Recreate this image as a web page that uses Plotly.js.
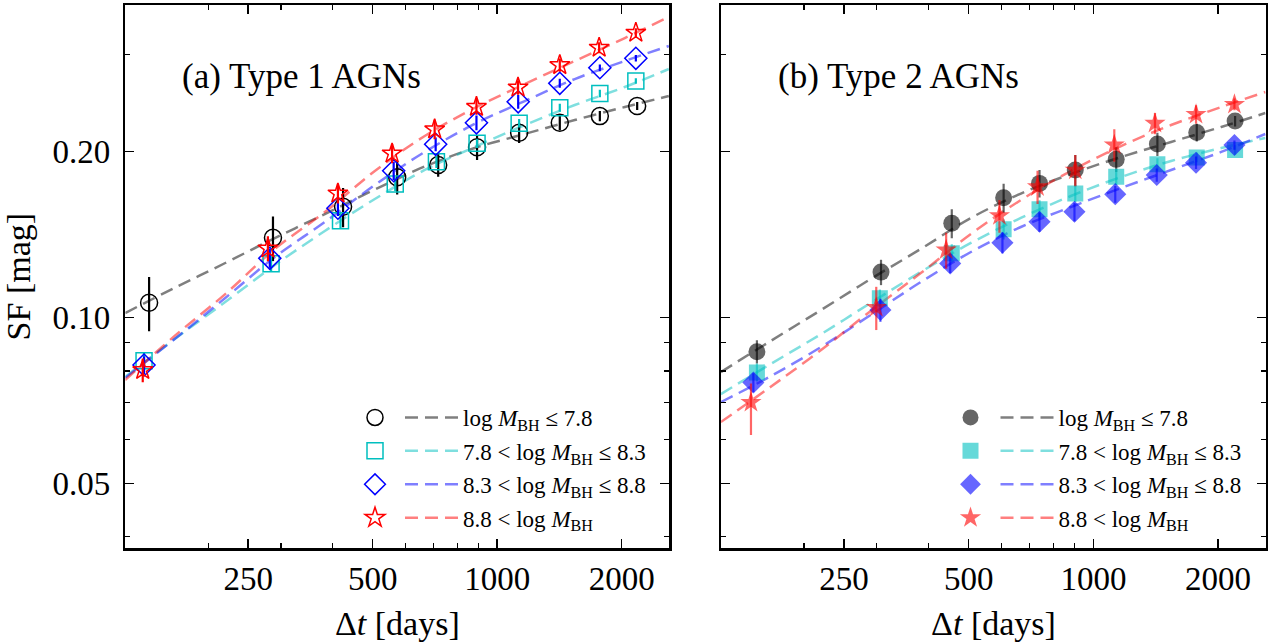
<!DOCTYPE html>
<html>
<head>
<meta charset="utf-8">
<script src="https://cdn.plot.ly/plotly-3.0.1.min.js"></script>
<style>html,body{margin:0;padding:0;background:#fff;}#chart{width:1281px;height:643px;}</style>
</head>
<body>
<div id="chart"></div>
<script>
// ---------------- data ----------------
const xTickVals = [250, 500, 1000, 2000];
const xTickText = ['250', '500', '1000', '2000'];
const xMinorVals = [200, 300, 400, 600, 700, 800, 900];
const yTickVals = [0.05, 0.10, 0.20];
const yTickText = ['0.05', '0.10', '0.20'];
const yMinorVals = [0.04, 0.06, 0.07, 0.08, 0.09, 0.3];

const seriesLabels = [
  'log <i>M</i><sub>BH</sub> \u2264 7.8',
  '7.8 &lt; log <i>M</i><sub>BH</sub> \u2264 8.3',
  '8.3 &lt; log <i>M</i><sub>BH</sub> \u2264 8.8',
  '8.8 &lt; log <i>M</i><sub>BH</sub>'
];
const panelTitles = ['(a) Type 1 AGNs', '(b) Type 2 AGNs'];
const xTitle = '\u0394<i>t</i> [days]';
const yTitle = 'SF [mag]';

// Type 1 AGNs (panel a)
const t1_dt_m1 = [144, 287, 424, 573, 720, 894, 1130, 1417, 1771, 2180];
const t1_sf_m1 = [0.1064, 0.1396, 0.1589, 0.1797, 0.1892, 0.2037, 0.2165, 0.2257, 0.2321, 0.2421];
const t1_err_m1 = [0.012, 0.013, 0.013, 0.0125, 0.009, 0.0105, 0.009, 0.007, 0.005, 0.004];

const t1_dt_m2 = [140, 284, 418, 567, 713, 894, 1130, 1417, 1771, 2164];
const t1_sf_m2 = [0.0835, 0.1252, 0.1499, 0.1747, 0.1918, 0.2071, 0.2252, 0.2403, 0.2552, 0.2688];
const t1_err_m2 = [0.003, 0.004, 0.005, 0.005, 0.005, 0.004, 0.004, 0.004, 0.004, 0.003];

const t1_dt_m3 = [140, 282, 412, 562, 710, 891, 1124, 1417, 1771, 2164];
const t1_sf_m3 = [0.0820, 0.1281, 0.1579, 0.1847, 0.2063, 0.2257, 0.2464, 0.2662, 0.2841, 0.2955];
const t1_err_m3 = [0.003, 0.005, 0.005, 0.007, 0.006, 0.007, 0.007, 0.005, 0.004, 0.004];

const t1_dt_m4 = [139, 279, 412, 557, 706, 891, 1123, 1417, 1764, 2164];
const t1_sf_m4 = [0.0803, 0.1335, 0.1680, 0.1986, 0.2196, 0.2413, 0.2617, 0.2873, 0.3090, 0.3290];
const t1_err_m4 = [0.004, 0.007, 0.007, 0.008, 0.009, 0.008, 0.008, 0.008, 0.007, 0.006];

// Type 2 AGNs (panel b)
const t2_dt_m1 = [154, 307, 455, 607, 741, 904, 1135, 1427, 1776, 2198];
const t2_sf_m1 = [0.0867, 0.1209, 0.1483, 0.1650, 0.1752, 0.1852, 0.1937, 0.2065, 0.2168, 0.2273];
const t2_err_m1 = [0.0042, 0.0064, 0.009, 0.010, 0.010, 0.012, 0.010, 0.010, 0.008, 0.005];

const t2_dt_m2 = [154, 305, 455, 607, 741, 904, 1135, 1427, 1776, 2198];
const t2_sf_m2 = [0.0795, 0.1084, 0.1308, 0.1446, 0.1573, 0.1680, 0.1801, 0.1897, 0.1953, 0.2014];
const t2_err_m2 = [0.003, 0.004, 0.005, 0.006, 0.006, 0.006, 0.006, 0.005, 0.004, 0.004];

const t2_dt_m3 = [151, 306, 451, 603, 741, 900, 1129, 1422, 1769, 2190];
const t2_sf_m3 = [0.0762, 0.1032, 0.1254, 0.1367, 0.1492, 0.1556, 0.1675, 0.1814, 0.1910, 0.2057];
const t2_err_m3 = [0.003, 0.005, 0.005, 0.006, 0.006, 0.006, 0.006, 0.005, 0.005, 0.004];

const t2_dt_m4 = [149, 299, 441, 593, 733, 904, 1123, 1408, 1769, 2190];
const t2_sf_m4 = [0.0701, 0.1043, 0.1326, 0.1530, 0.1727, 0.1852, 0.2057, 0.2252, 0.2338, 0.2438];
const t2_errUp_m4 = [0.0058, 0.0094, 0.010, 0.0105, 0.012, 0.012, 0.014, 0.010, 0.009, 0.006];
const t2_errDn_m4 = [0.0089, 0.0094, 0.010, 0.0105, 0.012, 0.012, 0.014, 0.010, 0.009, 0.006];

// dashed model curves at these time lags
const fitDt = [126, 166, 220, 290, 383, 506, 668, 882, 1166, 1540, 2035, 2600];
const t1_fit_m1 = [0.1019, 0.1132, 0.1256, 0.1394, 0.1541, 0.1708, 0.1880, 0.2031, 0.2154, 0.2283, 0.2411, 0.2524];
const t1_fit_m2 = [0.0780, 0.0914, 0.1067, 0.1245, 0.1436, 0.1641, 0.1853, 0.2040, 0.2236, 0.2431, 0.2621, 0.2826];
const t1_fit_m3 = [0.0777, 0.0914, 0.1085, 0.1288, 0.1491, 0.1740, 0.1998, 0.2246, 0.2472, 0.2710, 0.2922, 0.3111];
const t1_fit_m4 = [0.0770, 0.0926, 0.1103, 0.1332, 0.1554, 0.1845, 0.2136, 0.2401, 0.2654, 0.2922, 0.3217, 0.3513];
const t2_fit_m1 = [0.0796, 0.0906, 0.1032, 0.1175, 0.1332, 0.1516, 0.1679, 0.1822, 0.1956, 0.2083, 0.2218, 0.2351];
const t2_fit_m2 = [0.0726, 0.0823, 0.0933, 0.1063, 0.1210, 0.1366, 0.1516, 0.1662, 0.1799, 0.1924, 0.2031, 0.2118];
const t2_fit_m3 = [0.0702, 0.0782, 0.0884, 0.1011, 0.1160, 0.1315, 0.1460, 0.1587, 0.1718, 0.1853, 0.1998, 0.2154];
const t2_fit_m4 = [0.0646, 0.0748, 0.0873, 0.1028, 0.1204, 0.1418, 0.1634, 0.1845, 0.2048, 0.2236, 0.2411, 0.2567];

// ---------------- styling & assembly ----------------
const FONT = '"Liberation Serif", "Times New Roman", Times, serif';
const RGB = [[0,0,0],[0,191,191],[0,0,255],[255,0,0]];
const rgba = (c, a) => `rgba(${c[0]},${c[1]},${c[2]},${a})`;
const openSym = ['circle-open', 'square-open', 'diamond-open', 'star-open'];
const fillSym = ['circle', 'square', 'diamond', 'star'];
const size1 = [17, 16, 17, 15];
const size2 = [17, 16, 17, 16];

const panels = [
  {
    xa: 'x', ya: 'y', legM: 'legend', legL: 'legend2', filled: false,
    dt: [t1_dt_m1, t1_dt_m2, t1_dt_m3, t1_dt_m4],
    sf: [t1_sf_m1, t1_sf_m2, t1_sf_m3, t1_sf_m4],
    up: [t1_err_m1, t1_err_m2, t1_err_m3, t1_err_m4],
    dn: [t1_err_m1, t1_err_m2, t1_err_m3, t1_err_m4],
    fit: [t1_fit_m1, t1_fit_m2, t1_fit_m3, t1_fit_m4]
  },
  {
    xa: 'x2', ya: 'y2', legM: 'legend3', legL: 'legend4', filled: true,
    dt: [t2_dt_m1, t2_dt_m2, t2_dt_m3, t2_dt_m4],
    sf: [t2_sf_m1, t2_sf_m2, t2_sf_m3, t2_sf_m4],
    up: [t2_err_m1, t2_err_m2, t2_err_m3, t2_errUp_m4],
    dn: [t2_err_m1, t2_err_m2, t2_err_m3, t2_errDn_m4],
    fit: [t2_fit_m1, t2_fit_m2, t2_fit_m3, t2_fit_m4]
  }
];

const traces = [];
panels.forEach((p, pi) => {
  for (let i = 0; i < 4; i++) {
    traces.push({
      type: 'scatter', mode: 'lines', x: fitDt, y: p.fit[i],
      xaxis: p.xa, yaxis: p.ya, name: seriesLabels[i],
      legend: p.legL, legendgroup: 'L' + pi + i,
      line: {color: rgba(RGB[i], 0.5), width: 2.5, dash: '13px,7px', shape: 'spline', smoothing: 1},
      hoverinfo: 'skip'
    });
  }
  for (let i = 0; i < 4; i++) {
    const col = p.filled ? rgba(RGB[i], 0.6) : rgba(RGB[i], 1);
    traces.push({
      type: 'scatter', mode: 'markers', x: p.dt[i], y: p.sf[i],
      xaxis: p.xa, yaxis: p.ya, name: ' ',
      legend: p.legM, legendgroup: 'M' + pi + i,
      marker: p.filled
        ? {symbol: fillSym[i], size: size2[i], color: col, line: {width: 0}}
        : {symbol: openSym[i], size: size1[i], color: col, line: {width: 1.5, color: col}},
      error_y: {type: 'data', symmetric: false, array: p.up[i], arrayminus: p.dn[i],
                visible: true, color: col, thickness: 2.2, width: 0},
      hoverinfo: 'skip'
    });
  }
});

const tickFont = {family: FONT, size: 33, color: '#000'};
const titleFont = {family: FONT, size: 34, color: '#000'};
function xAxis(domain, anchor) {
  return {
    type: 'log', domain: domain, anchor: anchor, automargin: false,
    range: [Math.log10(126.2), Math.log10(2607)],
    showline: true, linecolor: '#000', linewidth: 2.5, mirror: 'ticks',
    ticks: 'inside', ticklen: 9, tickwidth: 1.4, tickcolor: '#000',
    tickmode: 'array', tickvals: xTickVals, ticktext: xTickText,
    minor: {tickmode: 'array', tickvals: xMinorVals, ticks: 'inside', ticklen: 5, tickwidth: 1.2, tickcolor: '#000', showgrid: false},
    showgrid: false, zeroline: false, tickfont: tickFont,
    title: {text: xTitle, font: titleFont, standoff: 15},
    fixedrange: true
  };
}
function yAxis(anchor, labels) {
  const ax = {
    type: 'log', domain: [0.14728, 0.99222], anchor: anchor, automargin: false,
    range: [Math.log10(0.03811), Math.log10(0.3693)],
    showline: true, linecolor: '#000', linewidth: 2.5, mirror: 'ticks',
    ticks: 'inside', ticklen: 9, tickwidth: 1.4, tickcolor: '#000',
    tickmode: 'array', tickvals: yTickVals, ticktext: yTickText,
    minor: {tickmode: 'array', tickvals: yMinorVals, ticks: 'inside', ticklen: 5, tickwidth: 1.2, tickcolor: '#000', showgrid: false},
    showgrid: false, zeroline: false, tickfont: tickFont,
    showticklabels: labels, ticklabelstandoff: 6,
    fixedrange: true
  };
  if (labels) ax.title = {text: yTitle, font: titleFont, standoff: 12};
  return ax;
}
function legendBox(xpx, itemwidth) {
  return {
    x: xpx / 1281, y: (643 - 396) / 643, xanchor: 'left', yanchor: 'top',
    bgcolor: 'rgba(0,0,0,0)', borderwidth: 0, traceorder: 'grouped',
    tracegroupgap: 0.5, itemwidth: itemwidth, itemclick: false, itemdoubleclick: false,
    font: {family: FONT, size: 23, color: '#000'}
  };
}

const layout = {
  width: 1281, height: 643,
  margin: {l: 0, r: 0, t: 0, b: 0},
  paper_bgcolor: '#fff', plot_bgcolor: '#fff',
  showlegend: true,
  xaxis: xAxis([0.09789, 0.52248], 'y'),
  xaxis2: xAxis([0.56292, 0.98813], 'y2'),
  yaxis: yAxis('x', true),
  yaxis2: yAxis('x2', false),
  legend: legendBox(355, 30),
  legend2: legendBox(400, 53),
  legend3: legendBox(950.5, 30),
  legend4: legendBox(995.5, 53),
  annotations: [
    {text: panelTitles[0], xref: 'paper', yref: 'paper', x: 180 / 1281, y: (643 - 77) / 643,
     xanchor: 'left', yanchor: 'middle', showarrow: false, font: {family: FONT, size: 35, color: '#000'}},
    {text: panelTitles[1], xref: 'paper', yref: 'paper', x: 775.5 / 1281, y: (643 - 77) / 643,
     xanchor: 'left', yanchor: 'middle', showarrow: false, font: {family: FONT, size: 35, color: '#000'}}
  ],
  hovermode: false
};

Plotly.newPlot('chart', traces, layout, {displayModeBar: false, staticPlot: true});
</script>
</body>
</html>
